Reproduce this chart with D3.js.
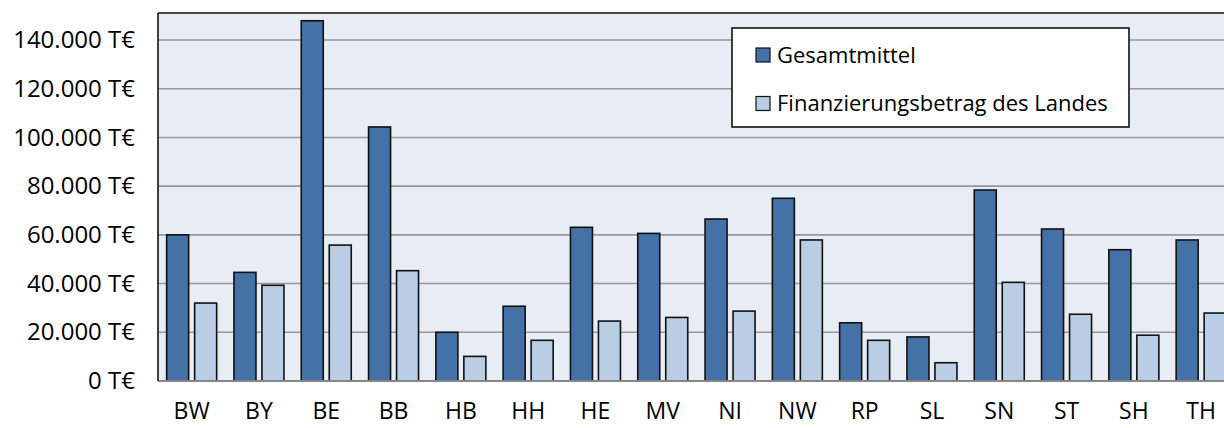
<!DOCTYPE html>
<meta charset="utf-8">
<script src="https://d3js.org/d3.v7.min.js"></script>
<style>
  body { margin: 0; background: #fff; }
  text { font-family: "Open Sans", Lato, sans-serif; fill: #000; }
</style>
<div id="vis"></div>
<script>

    // data (T€)
    var laender = ["BW", "BY", "BE", "BB", "HB", "HH", "HE", "MV", "NI", "NW", "RP", "SL", "SN", "ST", "SH", "TH"];
    var gesamtmittel = [60000, 44600, 147900, 104300, 20000, 30700, 63100, 60600, 66500, 75000, 23900, 18100, 78400, 62400, 53900, 57900];
    var finanzierung = [32000, 39300, 55800, 45300, 10100, 16700, 24600, 26100, 28700, 57900, 16700, 7500, 40500, 27400, 18800, 27900];
    var seriesNames = ["Gesamtmittel", "Finanzierungsbetrag des Landes"];
    var yTicks = [0, 20000, 40000, 60000, 80000, 100000, 120000, 140000];

    var colors = ["#4471a6", "#b9cde5"];

    var width = 1224, height = 428;
    var plot = { left: 158, top: 13, bottom: 381, step: 67.3 };

    var svg = d3.select("#vis")
        .append("svg")
        .attr("width", width)
        .attr("height", height);

    // scales
    var y = d3.scaleLinear()
        .domain([0, 140000])
        .range([plot.bottom, 40]);

    var x0 = d3.scaleBand()
        .domain(laender)
        .range([plot.left, plot.left + plot.step * laender.length])
        .padding(0);

    var x1 = d3.scaleBand()
        .domain(seriesNames)
        .range([0, x0.bandwidth()])
        .paddingInner(0.214)
        .paddingOuter(0.309);

    var plotRight = plot.left + plot.step * laender.length;

    // plot background
    svg.append("rect")
        .attr("x", plot.left)
        .attr("y", plot.top)
        .attr("width", plotRight - plot.left)
        .attr("height", plot.bottom - plot.top)
        .style("fill", "#e8ecf4");

    // gridlines
    svg.append("g")
        .selectAll("line")
        .data(yTicks.slice(1))
        .enter()
        .append("line")
        .attr("x1", plot.left)
        .attr("x2", plotRight)
        .attr("y1", function (d) { return y(d) })
        .attr("y2", function (d) { return y(d) })
        .style("stroke", "#989898")
        .style("stroke-width", 1.6);

    // y axis labels (german number format)
    var fmt = d3.formatLocale({ decimal: ",", thousands: ".", grouping: [3], currency: ["", ""] }).format(",d");
    svg.append("g")
        .attr("transform", "translate(" + (plot.left - 23) + ",0)")
        .call(d3.axisLeft(y).tickValues(yTicks).tickSize(0).tickPadding(0)
            .tickFormat(function (d) { return fmt(d) + " T€" }))
        .call(function (g) { g.select(".domain").remove() })
        .selectAll("text")
        .style("font-family", "'Open Sans', Lato, sans-serif")
        .style("font-size", "24px")
        .attr("fill", "#000");

    // bars
    var rows = laender.map(function (l, i) {
        return { land: l, values: [gesamtmittel[i], finanzierung[i]] };
    });

    var groups = svg.append("g")
        .selectAll("g")
        .data(rows)
        .enter()
        .append("g")
        .attr("transform", function (d) { return "translate(" + x0(d.land) + ",0)" });

    groups.selectAll("rect")
        .data(function (d) { return d.values.map(function (v, j) { return { s: seriesNames[j], v: v, j: j } }) })
        .enter()
        .append("rect")
        .attr("x", function (d) { return x1(d.s) })
        .attr("y", function (d) { return y(d.v) })
        .attr("width", x1.bandwidth())
        .attr("height", function (d) { return y(0) - y(d.v) })
        .style("fill", function (d) { return colors[d.j] })
        .style("stroke", "#111")
        .style("stroke-width", 1.6);

    // x axis line + plot border (top and left)
    svg.append("line")
        .attr("x1", plot.left).attr("x2", plotRight)
        .attr("y1", plot.bottom).attr("y2", plot.bottom)
        .style("stroke", "#868686").style("stroke-width", 2);
    svg.append("line")
        .attr("x1", plot.left).attr("x2", plotRight)
        .attr("y1", plot.top).attr("y2", plot.top)
        .style("stroke", "#111").style("stroke-width", 1.6);
    svg.append("line")
        .attr("x1", plot.left).attr("x2", plot.left)
        .attr("y1", plot.top).attr("y2", plot.bottom)
        .style("stroke", "#111").style("stroke-width", 1.6);

    // x labels
    svg.append("g")
        .attr("transform", "translate(0," + plot.bottom + ")")
        .call(d3.axisBottom(x0).tickSize(0).tickPadding(22))
        .call(function (g) { g.select(".domain").remove() })
        .selectAll("text")
        .style("font-family", "'Open Sans', Lato, sans-serif")
        .style("font-size", "23px")
        .attr("fill", "#000");

    // legend
    var legend = svg.append("g").attr("transform", "translate(732,28)");
    legend.append("rect")
        .attr("width", 397)
        .attr("height", 99)
        .style("fill", "#fff")
        .style("stroke", "#111")
        .style("stroke-width", 1.6);
    seriesNames.forEach(function (name, i) {
        var ly = 27 + i * 48.5;
        legend.append("rect")
            .attr("x", 24)
            .attr("y", ly - 7)
            .attr("width", 14)
            .attr("height", 14)
            .style("fill", colors[i])
            .style("stroke", "#111")
            .style("stroke-width", 1.2);
        legend.append("text")
            .attr("x", 45)
            .attr("y", ly)
            .attr("dy", "0.35em")
            .style("font-size", "22px")
            .text(name);
    });
</script>
